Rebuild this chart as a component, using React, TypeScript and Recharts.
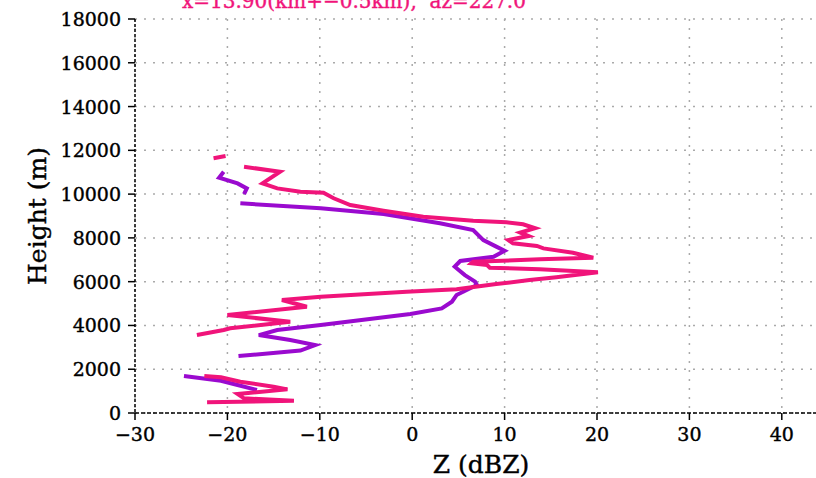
import React from 'react';
import { LineChart, Line, XAxis, YAxis, CartesianGrid } from 'recharts';

// reflectivity (dBZ) against height (m), read top to bottom; null = gap in the profile
const pinkZ = [
  -21.5, -20.2, null,
  -18.2, -14.3, -16.2, -14.6, -12.1, -9.6, -8.5, -6.7, -3.1, 1.2, 6.6, 10.2, 12.0, 13.3,
  11.7, 12.6, 10.4, 10.9, 13.5, 14.2, 17.4, 19.6, 13.8, 6.6, 6.4, 8.1, 8.4, 13.8, 20.1,
  15.6, 12.7, 9.1, 4.8, -0.6, -9.9, -14.1, -11.4, -20.0, -13.2, -19.7, -20.4, -23.3, null,
  -22.5, -20.7, -18.6, -15.0, -13.5, -18.9, -18.2, -12.8, -22.2,
];
const pinkH = [
  11640, 11740, null,
  11250, 11020, 10490, 10260, 10110, 10060, 9810, 9500, 9240, 8970, 8785, 8710, 8620, 8440,
  8240, 8085, 7900, 7750, 7630, 7520, 7320, 7095, 7020, 6910, 6840, 6760, 6640, 6565, 6430,
  6200, 6075, 5890, 5650, 5540, 5310, 5160, 4855, 4475, 4170, 3870, 3790, 3560, null,
  1690, 1630, 1430, 1200, 1080, 870, 670, 560, 490,
];

const purpleZ = [
  -20.4, -20.9, -18.9, -17.9, -18.2, null,
  -18.6, -9.9, -3.1, 3.0, 6.6, 7.7, 9.1, 10.0, 8.8, 5.2, 4.6, 5.7, 6.8, 7.0,
  4.8, 4.3, 3.2, -0.2, -9.9, -14.6, -16.6, -13.2, -10.5, -12.1, -18.8, null,
  -24.7, -20.7, -18.9, -16.8,
];
const purpleH = [
  11020, 10750, 10490, 10260, 10000, null,
  9580, 9350, 9090, 8665, 8360, 7900, 7600, 7410, 7140, 6945, 6685, 6300, 6000, 5850,
  5390, 5085, 4780, 4520, 4020, 3790, 3560, 3335, 3105, 2850, 2600, null,
  1690, 1475, 1280, 1050,
];

const xTicks = [-30, -20, -10, 0, 10, 20, 30, 40];
const yTicks = [0, 2000, 4000, 6000, 8000, 10000, 12000, 14000, 16000, 18000];

const title = 'x=13.90(km+\u22120.5km),  az=227.0\u00b0';

const toRows = (zs: (number | null)[], hs: (number | null)[]) =>
  zs.map((z, i) => ({ z, h: hs[i] }));

const pinkData = toRows(pinkZ, pinkH);
const purpleData = toRows(purpleZ, purpleH);

const FONT = '"DejaVu Serif", serif';
const fmt = (v: number) => (v < 0 ? '\u2212' + Math.abs(v) : String(v));

const YTick = (props: any) => (
  <text x={121} y={props.y} dy={7} textAnchor="end" fontFamily={FONT} fontSize={19}
    fill="#000" stroke="#000" strokeWidth={0.4}>
    {props.payload.value}
  </text>
);

const XTick = (props: any) => (
  <text x={props.x} y={441} textAnchor="middle" fontFamily={FONT} fontSize={19}
    fill="#000" stroke="#000" strokeWidth={0.4}>
    {fmt(props.payload.value)}
  </text>
);

export default function App() {
  return (
    <div style={{ position: 'absolute', left: 0, top: 0, width: 816, height: 478, overflow: 'hidden', background: '#fff' }}>
      <LineChart width={850} height={478} margin={{ top: 19, right: 22, left: 0, bottom: 0 }}>
        <CartesianGrid stroke="#aaa" strokeDasharray="2 7" strokeWidth={1.5} />
        <XAxis
          xAxisId="top"
          orientation="top"
          type="number"
          dataKey="z"
          domain={[-30, 45]}
          allowDataOverflow
          height={0}
          tick={false}
          tickLine={false}
          axisLine={{ stroke: '#000', strokeWidth: 2 }}
        />
        <XAxis
          type="number"
          dataKey="z"
          domain={[-30, 45]}
          ticks={xTicks}
          allowDataOverflow
          height={65}
          tick={<XTick />}
          tickSize={7}
          tickLine={{ stroke: '#000', strokeWidth: 1.5 }}
          axisLine={{ stroke: '#000', strokeWidth: 1.5, strokeDasharray: '4 2' }}
        />
        <YAxis
          type="number"
          dataKey="h"
          domain={[0, 18000]}
          ticks={yTicks}
          allowDataOverflow
          width={135}
          tick={<YTick />}
          tickSize={7}
          tickLine={{ stroke: '#000', strokeWidth: 1.5 }}
          axisLine={{ stroke: '#000', strokeWidth: 1.5, strokeDasharray: '3 2' }}
        />
        <Line
          data={purpleData}
          dataKey="h"
          stroke="#9a0acf"
          strokeWidth={4}
          dot={false}
          connectNulls={false}
          isAnimationActive={false}
        />
        <Line
          data={pinkData}
          dataKey="h"
          stroke="#f0147a"
          strokeWidth={4}
          dot={false}
          connectNulls={false}
          isAnimationActive={false}
        />
      </LineChart>
      <svg width={816} height={478} style={{ position: 'absolute', left: 0, top: 0, pointerEvents: 'none' }}>
        <text x={182} y={8} fontFamily={FONT} fontSize={20} fill="#f0147a" stroke="#f0147a"
          strokeWidth={0.4} style={{ whiteSpace: 'pre' }}>
          {title}
        </text>
        <text
          x={46}
          y={216}
          transform="rotate(-90 46 216)"
          textAnchor="middle"
          fontFamily={FONT}
          fontSize={25}
          fill="#000"
          stroke="#000"
          strokeWidth={0.4}
        >
          Height (m)
        </text>
        <text x={481} y={473} textAnchor="middle" fontFamily={FONT} fontSize={25} fill="#000"
          stroke="#000" strokeWidth={0.4}>
          Z (dBZ)
        </text>
      </svg>
    </div>
  );
}
